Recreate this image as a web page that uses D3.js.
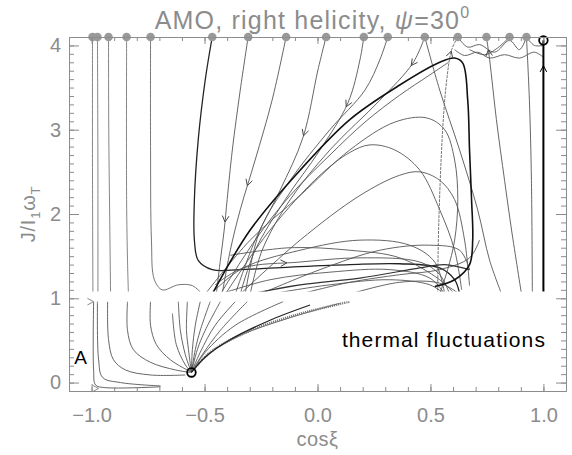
<!DOCTYPE html>
<html><head><meta charset="utf-8">
<script src="https://cdn.jsdelivr.net/npm/d3@7"></script>
<style>body{margin:0;background:#fff}</style>
</head><body><svg id="c" width="572" height="455"></svg>
<script>
// ---------------- data ----------------
const xTicks = [-1.0, -0.5, 0.0, 0.5, 1.0];
const xTickLabels = ["\u22121.0", "\u22120.5", "0.0", "0.5", "1.0"];
const yTicks = [0, 1, 2, 3, 4];
const yTickLabels = ["0", "1", "2", "3", "4"];
const xDomain = [-1.1, 1.1];
const yDomain = [-0.1, 4.1];

// starting points (grey dots on the top edge)
const startDotsX = [-0.996,-0.974,-0.925,-0.845,-0.739,-0.466,-0.307,-0.139,0.038,0.205,0.311,0.475,0.621,0.748,0.850,0.925];
const startDotsY = 4.1;
// attractors (black open circles)
const attractors = [[1.0, 4.06], [-0.558, 0.12]];

// upper region trajectories (J > ~1.08)
const U1 = [[-0.996,4.10],[-0.996,2.5],[-0.994,1.0]];
const U2 = [[-0.974,4.10],[-0.972,2.5],[-0.972,1.0]];
const U3 = [[-0.925,4.10],[-0.924,3.0],[-0.920,2.0],[-0.916,1.05]];
const U4 = [[-0.845,4.10],[-0.845,2.17],[-0.841,1.45],[-0.837,1.05]];
const U5 = [[-0.739,4.10],[-0.739,2.76],[-0.735,1.69],[-0.722,1.22],[-0.687,1.10],[-0.616,1.16],[-0.554,1.15],[-0.510,1.05]];
const U6 = [[-0.466,4.10],[-0.497,3.59],[-0.528,2.88],[-0.545,2.17],[-0.545,1.69],[-0.528,1.45],[-0.466,1.34],[-0.342,1.34],[-0.121,1.37],[0.143,1.40],[0.364,1.41],[0.541,1.36],[0.607,1.22],[0.629,1.05]];
const U7 = [[-0.307,4.10],[-0.342,3.47],[-0.377,2.76],[-0.400,2.17],[-0.413,1.81],[-0.430,1.45],[-0.448,1.05]];
const U8 = [[-0.139,4.10],[-0.201,3.35],[-0.276,2.64],[-0.342,2.05],[-0.386,1.57],[-0.422,1.05]];
const U9 = [[0.038,4.10],[0.002,3.71],[-0.064,2.91],[-0.166,2.28],[-0.276,1.69],[-0.364,1.05]];
const U10 = [[0.205,4.10],[0.188,3.83],[0.135,3.32],[0.011,2.76],[-0.143,2.17],[-0.276,1.57],[-0.342,1.05]];
const U11 = [[0.311,4.10],[0.276,3.83],[0.210,3.47],[0.055,3.00],[-0.121,2.40],[-0.254,1.81],[-0.320,1.05]];
const U12a = [[0.475,4.10],[0.422,3.79],[0.276,3.35],[0.055,2.76],[-0.121,2.17],[-0.245,1.57],[-0.298,1.05]];
const U12b = [[0.475,4.10],[0.541,3.47],[0.629,2.76],[0.709,2.05],[0.762,1.45],[0.815,1.05]];
const R1 = [[0.748,4.10],[0.762,3.83],[0.792,3.12],[0.828,2.40],[0.859,1.81],[0.903,1.05]];
const R2 = [[0.925,4.10],[0.938,3.35],[0.947,2.40],[0.951,1.05]];
const T1 = [[1.0,1.05],[1.0,4.06]];
const B1 = [[-0.466,1.05],[-0.298,1.81],[-0.077,2.52],[0.143,3.12],[0.364,3.53],[0.541,3.80],[0.607,3.85],[0.643,3.79],[0.665,3.35],[0.673,2.76],[0.682,2.17],[0.687,1.69],[0.673,1.40],[0.607,1.22],[0.519,1.14]];
const B2 = [[-0.430,1.05],[-0.276,1.69],[-0.121,2.22],[0.055,2.70],[0.210,3.09],[0.364,3.41],[0.497,3.65],[0.580,3.80]];
const Loop1 = [[-0.497,1.05],[-0.298,1.69],[-0.077,2.22],[0.143,2.76],[0.342,3.09],[0.483,3.14],[0.563,3.00],[0.607,2.64],[0.621,2.17],[0.607,1.69],[0.576,1.34],[0.541,1.05]];
const Loop2 = [[-0.408,1.05],[-0.210,1.81],[0.011,2.46],[0.143,2.73],[0.232,2.82],[0.342,2.76],[0.453,2.52],[0.541,2.05],[0.607,1.57],[0.638,1.10]];
const Loop3 = [[-0.342,1.05],[-0.077,1.69],[0.188,2.22],[0.364,2.46],[0.453,2.50],[0.541,2.40],[0.607,2.17],[0.651,1.69],[0.673,1.15]];
const Tall = [[0.532,1.05],[0.536,1.81],[0.554,3.00],[0.572,3.59],[0.594,3.95],[0.621,4.10]];
const Bn1 = [[-0.453,1.10],[-0.329,1.36],[-0.077,1.57],[0.188,1.69],[0.408,1.63],[0.519,1.43],[0.563,1.05]];
const Bn2 = [[-0.453,1.16],[-0.329,1.36],[-0.077,1.43],[0.188,1.48],[0.453,1.43],[0.541,1.28],[0.585,1.05]];
const Bn3 = [[-0.430,1.05],[-0.210,1.22],[0.055,1.31],[0.320,1.34],[0.497,1.24],[0.563,1.05]];
const Bn4 = [[-0.386,1.51],[-0.121,1.60],[0.143,1.57],[0.364,1.48],[0.541,1.22],[0.607,1.05]];
const Bn5 = [[-0.077,1.05],[0.143,1.19],[0.364,1.28],[0.541,1.34],[0.673,1.48],[0.717,1.69]];
const Bn6 = [[-0.254,1.05],[0.011,1.34],[0.276,1.57],[0.497,1.63],[0.629,1.57],[0.673,1.34]];
const Bn7 = [[0.143,1.05],[0.364,1.19],[0.541,1.18],[0.629,1.05]];
const Bn8 = [[-0.210,1.05],[0.055,1.16],[0.320,1.22],[0.497,1.16],[0.563,1.05]];
const Bn9 = [[-0.298,1.05],[-0.077,1.16],[0.188,1.24],[0.453,1.36],[0.563,1.40],[0.673,1.34]];
const W1 = [[0.607,3.95],[0.651,3.88],[0.709,3.92],[0.762,3.85],[0.828,3.89],[0.894,3.85],[0.960,3.92],[1.0,3.86]];
const W2 = [[0.621,4.10],[0.665,3.98],[0.717,4.01],[0.784,3.92],[0.850,4.06],[0.894,3.95],[0.925,4.10]];
const W3 = [[0.850,4.10],[0.797,3.97],[0.740,3.89],[0.673,3.95]];
const W4 = [[0.925,4.10],[0.960,4.00],[1.0,4.0]];

// lower region trajectories ("thermal fluctuations", J < ~0.96)
const L1 = [[-0.991,0.96],[-0.991,0.15],[-0.982,-0.03],[-0.938,-0.06],[-0.695,-0.05]];
const L2 = [[-0.974,0.96],[-0.969,0.27],[-0.951,0.06],[-0.872,0.00],[-0.695,-0.04]];
const L3 = [[-0.929,0.96],[-0.925,0.51],[-0.903,0.27],[-0.850,0.15],[-0.739,0.09],[-0.585,0.09]];
const L4 = [[-0.841,0.96],[-0.841,0.62],[-0.815,0.39],[-0.739,0.24],[-0.629,0.15],[-0.563,0.12]];
const L5 = [[-0.739,0.96],[-0.739,0.68],[-0.713,0.45],[-0.651,0.27],[-0.563,0.13]];
const L6 = [[-0.642,0.82],[-0.625,0.45],[-0.585,0.21],[-0.558,0.12]];
const F1 = [[-0.558,0.12],[-0.585,0.33],[-0.607,0.62],[-0.616,0.96]];
const F2 = [[-0.558,0.12],[-0.571,0.39],[-0.580,0.62],[-0.576,0.96]];
const F3 = [[-0.558,0.12],[-0.554,0.39],[-0.541,0.68],[-0.519,0.96]];
const F4 = [[-0.558,0.12],[-0.541,0.39],[-0.519,0.62],[-0.475,0.96]];
const F5 = [[-0.558,0.12],[-0.532,0.39],[-0.497,0.62],[-0.430,0.96]];
const F6 = [[-0.558,0.12],[-0.519,0.36],[-0.453,0.68],[-0.364,0.96]];
const F7 = [[-0.558,0.12],[-0.510,0.33],[-0.430,0.62],[-0.311,0.96]];
const F8 = [[-0.558,0.12],[-0.497,0.36],[-0.364,0.68],[-0.152,0.96]];
const F9 = [[-0.550,0.15],[-0.475,0.36],[-0.320,0.59],[-0.099,0.80],[0.143,0.96]];
const F10 = [[-0.558,0.12],[-0.488,0.33],[-0.342,0.56],[-0.121,0.77],[0.099,0.94]];
const F11 = [[-0.558,0.12],[-0.497,0.30],[-0.386,0.51],[-0.210,0.74],[-0.033,0.92]];

// flow-direction arrows: [trajectory, fraction along it, +1 forward / -1 backward]
const flowArrows = [["U7",0.72,1],["U8",0.58,1],["U9",0.37,1],["U10",0.25,1],["U12a",0.1,1],
                    ["Tall",0.94,1],["R1",0.05,-1],["T1",0.9,1],["Bn2",0.3,1]];
// loose arrow heads at the left edge, pointing towards +cos(xi)
const edgeArrows = [[-0.991,0.96],[-0.969,-0.07]];

const titleText = "AMO, right helicity, ";
const xLabel = "cos\u03be";
const annotations = [["A", -1.049, 0.22], ["thermal fluctuations", 0.108, 0.42]];

// ---------------- drawing ----------------
const svg = d3.select("#c");
const W = 572, H = 455;
const x = d3.scaleLinear().domain(xDomain).range([69, 566]);
const y = d3.scaleLinear().domain(yDomain).range([391, 37]);
const AX = "#8c8c8c";
const FONT = "'Liberation Sans', Arial, Helvetica, sans-serif";

const defs = svg.append("defs");
defs.append("clipPath").attr("id","clipU").append("rect")
  .attr("x", x(xDomain[0])).attr("y", y(4.1)-6).attr("width", x(xDomain[1])-x(xDomain[0])).attr("height", y(1.08)-y(4.1)+6);
defs.append("clipPath").attr("id","clipL").append("rect")
  .attr("x", x(xDomain[0])).attr("y", y(0.965)).attr("width", x(xDomain[1])-x(xDomain[0])).attr("height", y(-0.1)-y(0.965));

const line = d3.line().x(d=>x(d[0])).y(d=>y(d[1])).curve(d3.curveCatmullRom.alpha(0.5));

const upper = {U1,U2,U3,U4,U5,U6,U7,U8,U9,U10,U11,U12a,U12b,R1,R2,B2,Loop1,Loop2,Loop3,Tall,Bn1,Bn2,Bn3,Bn4,Bn5,Bn6,Bn7,Bn8,Bn9,W1,W2,W3,W4,B1,T1};
const lower = {L1,L2,L3,L4,L5,L6,F1,F2,F3,F4,F5,F6,F7,F8,F10,F9,F11};
const styleOf = {
  U1:{c:"#777",w:0.9}, U2:{c:"#777",w:0.9}, U3:{c:"#777",w:0.9}, U4:{c:"#777",w:0.9}, U5:{c:"#666",w:0.9},
  U6:{c:"#222",w:1.3}, B1:{c:"#111",w:1.6}, T1:{c:"#000",w:2.0}, Bn9:{c:"#333",w:1.2},
  F9:{c:"#777",w:2.4,d:"1.2 0.9"}, F11:{c:"#222",w:1.2}, Tall:{c:"#666",w:0.9,d:"3 1"}
};
const nodes = {};
function drawGroup(group, clip) {
  const g = svg.append("g").attr("clip-path", `url(#${clip})`);
  Object.entries(group).forEach(([k, pts]) => {
    const s = styleOf[k] || {c:"#555", w:0.9};
    const p = g.append("path").attr("d", line(pts)).attr("fill","none")
      .attr("stroke", s.c).attr("stroke-width", s.w).attr("stroke-linejoin","round");
    if (s.d) p.attr("stroke-dasharray", s.d);
    nodes[k] = {node: p.node(), style: s};
  });
}
drawGroup(upper, "clipU");
drawGroup(lower, "clipL");

function vhead(px, py, ang, color, w) {
  const L = 7, a = 28 * Math.PI / 180;
  const p1 = [px - L*Math.cos(ang - a), py - L*Math.sin(ang - a)];
  const p2 = [px - L*Math.cos(ang + a), py - L*Math.sin(ang + a)];
  svg.append("path").attr("d", `M${p1[0]},${p1[1]}L${px},${py}L${p2[0]},${p2[1]}`)
    .attr("fill","none").attr("stroke", color).attr("stroke-width", w);
}
flowArrows.forEach(([k, t, dir]) => {
  const n = nodes[k].node, len = n.getTotalLength();
  const s = t * len;
  const p = n.getPointAtLength(s);
  const q = n.getPointAtLength(Math.max(0, Math.min(len, s + dir * 2)));
  const ang = Math.atan2(q.y - p.y, q.x - p.x);
  vhead(p.x, p.y, ang, nodes[k].style.c === "#000" ? "#000" : "#444", 1);
});
edgeArrows.forEach(([ax, ay]) => vhead(x(ax), y(ay), 0, "#888", 1));

// start dots
svg.append("g").selectAll("circle").data(startDotsX).join("circle")
  .attr("cx", d => x(d)).attr("cy", y(startDotsY)).attr("r", 4.3).attr("fill", "#999");
// attractors
svg.append("g").selectAll("circle").data(attractors).join("circle")
  .attr("cx", d => x(d[0])).attr("cy", d => y(d[1])).attr("r", 4.3)
  .attr("fill", "none").attr("stroke", "#000").attr("stroke-width", 1.8);

// axes (IDL-style inward ticks on all four sides)
const r2 = v => Math.round(v * 10) / 10;
const xMinor = d3.range(-11, 12).map(v => r2(v / 10));
const yMinor = d3.range(-1, 42).map(v => r2(v / 10));
const frame = { l: x(xDomain[0]), r: x(xDomain[1]), t: y(yDomain[1]), b: y(yDomain[0]) };

function styleAxis(g) {
  g.selectAll("path.domain").attr("stroke", AX);
  g.selectAll(".tick line").attr("stroke", AX);
  g.selectAll("text").attr("fill", AX).attr("font-family", FONT);
}
// bottom
svg.append("g").attr("transform", `translate(0,${frame.b})`)
  .call(d3.axisBottom(x).tickValues(xMinor).tickSize(-4).tickSizeOuter(0).tickFormat("")).call(styleAxis);
svg.append("g").attr("transform", `translate(0,${frame.b})`)
  .call(d3.axisBottom(x).tickValues(xTicks).tickSize(-7).tickSizeOuter(0).tickPadding(17)
    .tickFormat((d, i) => xTickLabels[i])).call(styleAxis)
  .selectAll("text").attr("font-size", 20);
// top
svg.append("g").attr("transform", `translate(0,${frame.t})`)
  .call(d3.axisTop(x).tickValues(xMinor).tickSize(-4).tickSizeOuter(0).tickFormat("")).call(styleAxis);
svg.append("g").attr("transform", `translate(0,${frame.t})`)
  .call(d3.axisTop(x).tickValues(xTicks).tickSize(-7).tickSizeOuter(0).tickFormat("")).call(styleAxis);
// left
svg.append("g").attr("transform", `translate(${frame.l},0)`)
  .call(d3.axisLeft(y).tickValues(yMinor).tickSize(-5).tickSizeOuter(0).tickFormat("")).call(styleAxis);
svg.append("g").attr("transform", `translate(${frame.l},0)`)
  .call(d3.axisLeft(y).tickValues(yTicks).tickSize(-10).tickSizeOuter(0).tickPadding(8)
    .tickFormat((d, i) => yTickLabels[i])).call(styleAxis)
  .selectAll("text").attr("font-size", 20);
// right
svg.append("g").attr("transform", `translate(${frame.r},0)`)
  .call(d3.axisRight(y).tickValues(yMinor).tickSize(-5).tickSizeOuter(0).tickFormat("")).call(styleAxis);
svg.append("g").attr("transform", `translate(${frame.r},0)`)
  .call(d3.axisRight(y).tickValues(yTicks).tickSize(-10).tickSizeOuter(0).tickFormat("")).call(styleAxis);

// title
const tt = svg.append("text").attr("x", (frame.l + frame.r) / 2 - 5).attr("y", 29)
  .attr("text-anchor", "middle").attr("font-family", FONT).attr("font-size", 25)
  .attr("letter-spacing", 1.2).attr("fill", AX);
tt.append("tspan").text(titleText);
tt.append("tspan").attr("font-style", "italic").text("\u03c8");
tt.append("tspan").text("=30");
tt.append("tspan").attr("font-size", 16).attr("dy", -11).text("0");

// x label
svg.append("text").attr("x", (frame.l + frame.r) / 2).attr("y", 446)
  .attr("text-anchor", "middle").attr("font-family", FONT).attr("font-size", 20)
  .attr("letter-spacing", 0.5).attr("fill", AX).text(xLabel);

// y label
const yl = svg.append("text").attr("transform", `translate(35,${(frame.t + frame.b) / 2}) rotate(-90)`)
  .attr("text-anchor", "middle").attr("font-family", FONT).attr("font-size", 20)
  .attr("letter-spacing", 0.8).attr("fill", AX);
yl.append("tspan").text("J/I");
yl.append("tspan").attr("font-size", 13).attr("dy", 5).text("1");
yl.append("tspan").attr("dy", -5).text("\u03c9");
yl.append("tspan").attr("font-size", 13).attr("dy", 5).text("T");

// annotations
svg.append("text").attr("x", x(annotations[0][1])).attr("y", y(annotations[0][2]))
  .attr("text-anchor", "middle").attr("font-family", FONT).attr("font-size", 19).attr("fill", "#000")
  .text(annotations[0][0]);
svg.append("text").attr("x", x(annotations[1][1])).attr("y", y(annotations[1][2]))
  .attr("font-family", FONT).attr("font-size", 21).attr("fill", "#000")
  .attr("textLength", 203).attr("lengthAdjust", "spacing")
  .text(annotations[1][0]);
</script>
</body></html>
